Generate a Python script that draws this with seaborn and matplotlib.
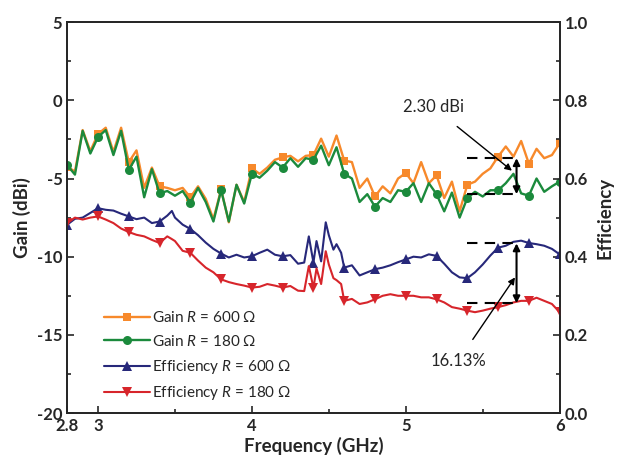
import numpy as np
import matplotlib
matplotlib.use("Agg")
import matplotlib.pyplot as plt
from matplotlib.ticker import MultipleLocator, FixedLocator
import seaborn as sns

# Gain curves, read every 0.05 GHz from 2.80 to 6.00
gain_freq = [2.80, 2.85, 2.90, 2.95, 3.00, 3.05, 3.10, 3.15, 3.20, 3.25, 3.30, 3.35, 3.40,
             3.45, 3.50, 3.55, 3.60, 3.65, 3.70, 3.75, 3.80, 3.85, 3.90, 3.95, 4.00, 4.05,
             4.10, 4.15, 4.20, 4.25, 4.30, 4.35, 4.40, 4.45, 4.50, 4.55, 4.60, 4.65, 4.70,
             4.75, 4.80, 4.85, 4.90, 4.95, 5.00, 5.05, 5.10, 5.15, 5.20, 5.25, 5.30, 5.35,
             5.40, 5.45, 5.50, 5.55, 5.60, 5.65, 5.70, 5.75, 5.80, 5.85, 5.90, 5.95, 6.00]
gain_600 = [-4.25, -4.55, -1.9, -3.25, -2.15, -1.75, -3.3, -1.75, -3.95, -3.2, -5.6, -4.3, -5.5,
            -5.6, -5.75, -5.6, -6.2, -5.5, -6.3, -7.6, -5.7, -7.8, -5.4, -6.5, -4.35, -4.7,
            -4.3, -3.8, -3.65, -3.55, -3.9, -3.55, -3.5, -2.45, -3.6, -2.25, -3.85, -3.95, -5.6,
            -5.0, -6.15, -5.5, -5.95, -5.0, -4.65, -5.3, -3.95, -5.3, -4.8, -6.25, -5.2, -7.1,
            -5.4, -5.2, -4.7, -4.35, -3.6, -2.95, -3.6, -2.6, -4.05, -3.1, -3.7, -3.5, -2.75]
gain_180 = [-4.15, -4.75, -1.95, -3.4, -2.35, -1.9, -3.5, -1.95, -4.45, -3.6, -6.2, -4.4, -5.95,
            -5.8, -6.1, -5.8, -6.55, -5.6, -6.5, -7.75, -5.75, -7.75, -5.4, -6.6, -4.7, -4.95,
            -4.5, -3.95, -4.3, -3.7, -4.25, -3.7, -3.8, -2.9, -4.15, -3.0, -4.7, -5.0, -6.5,
            -6.0, -6.8, -6.25, -6.5, -5.75, -5.85, -5.3, -6.5, -5.3, -6.0, -7.1, -5.9, -7.5,
            -6.25, -5.85, -6.15, -5.75, -5.75, -5.3, -4.7, -5.95, -6.1, -5.0, -5.85, -5.5, -5.2]

# Efficiency curves (extra points around the 4.4-4.5 GHz spikes)
eff_freq = [2.80, 2.85, 2.90, 2.95, 3.00, 3.05, 3.10, 3.15, 3.20, 3.25, 3.30, 3.35, 3.40,
            3.45, 3.48, 3.50, 3.55, 3.60, 3.65, 3.70, 3.75, 3.80, 3.85, 3.90, 3.95, 4.00,
            4.05, 4.10, 4.15, 4.20, 4.25, 4.30, 4.34, 4.37, 4.40, 4.42, 4.45, 4.48, 4.50,
            4.53, 4.55, 4.58, 4.60, 4.65, 4.70, 4.75, 4.80, 4.85, 4.90, 4.95, 5.00, 5.05,
            5.10, 5.15, 5.20, 5.25, 5.30, 5.35, 5.40, 5.45, 5.50, 5.55, 5.60, 5.65, 5.70,
            5.75, 5.80, 5.85, 5.90, 5.95, 6.00]
eff_600 = [0.482, 0.497, 0.500, 0.512, 0.524, 0.520, 0.518, 0.510, 0.503, 0.496, 0.500, 0.486, 0.490,
           0.505, 0.517, 0.500, 0.482, 0.471, 0.455, 0.436, 0.420, 0.408, 0.398, 0.405, 0.398, 0.401,
           0.410, 0.418, 0.405, 0.401, 0.404, 0.382, 0.385, 0.452, 0.385, 0.440, 0.388, 0.488, 0.455,
           0.418, 0.432, 0.410, 0.372, 0.378, 0.352, 0.360, 0.368, 0.372, 0.378, 0.386, 0.393, 0.400,
           0.398, 0.406, 0.402, 0.382, 0.360, 0.347, 0.345, 0.360, 0.380, 0.403, 0.423, 0.428, 0.438,
           0.441, 0.435, 0.432, 0.428, 0.420, 0.406]
eff_180 = [0.486, 0.500, 0.495, 0.500, 0.503, 0.495, 0.486, 0.472, 0.463, 0.456, 0.452, 0.443, 0.435,
           0.452, 0.445, 0.440, 0.415, 0.410, 0.390, 0.372, 0.360, 0.342, 0.335, 0.330, 0.326, 0.321,
           0.323, 0.330, 0.326, 0.321, 0.325, 0.313, 0.312, 0.376, 0.320, 0.370, 0.330, 0.414, 0.380,
           0.345, 0.340, 0.330, 0.287, 0.292, 0.279, 0.283, 0.291, 0.300, 0.304, 0.300, 0.300, 0.300,
           0.296, 0.296, 0.291, 0.283, 0.271, 0.267, 0.262, 0.258, 0.262, 0.267, 0.271, 0.276, 0.283,
           0.287, 0.287, 0.295, 0.287, 0.279, 0.258]

# annotation levels
gain_gap = [-3.7, -6.0]
eff_gap = [0.434, 0.281]
gap_x = [5.4, 5.72]

colors = {"g600": "#f7892b", "g180": "#1b8a3c", "e600": "#27287a", "e180": "#d7252b"}

sns.set_style("ticks")
plt.rcParams["font.family"] = ["Lato", "DejaVu Sans"]
plt.rcParams["mathtext.fontset"] = "custom"
plt.rcParams["mathtext.rm"] = "Lato"
plt.rcParams["mathtext.it"] = "Lato:italic"
plt.rcParams["axes.unicode_minus"] = False


def mark_idx(freqs):
    # markers sit every 0.2 GHz
    return [i for i, f in enumerate(freqs) if abs(f * 5 - round(f * 5)) < 1e-6]


fig = plt.figure(figsize=(6.17, 4.62), dpi=100)
ax = fig.add_axes([0.109, 0.106, 0.798, 0.846])
ax2 = ax.twinx()

sns.lineplot(x=gain_freq, y=gain_600, ax=ax, color=colors["g600"], lw=1.7, marker="s",
             markersize=6, markeredgewidth=0, markevery=mark_idx(gain_freq),
             label=r"Gain $\mathit{R}$ = 600 Ω", legend=False)
sns.lineplot(x=gain_freq, y=gain_180, ax=ax, color=colors["g180"], lw=1.7, marker="o",
             markersize=6.5, markeredgewidth=0, markevery=mark_idx(gain_freq),
             label=r"Gain $\mathit{R}$ = 180 Ω", legend=False)
sns.lineplot(x=eff_freq, y=eff_600, ax=ax2, color=colors["e600"], lw=1.5, marker="^",
             markersize=7, markeredgewidth=0, markevery=mark_idx(eff_freq),
             label=r"Efficiency $\mathit{R}$ = 600 Ω", legend=False)
sns.lineplot(x=eff_freq, y=eff_180, ax=ax2, color=colors["e180"], lw=1.5, marker="v",
             markersize=7, markeredgewidth=0, markevery=mark_idx(eff_freq),
             label=r"Efficiency $\mathit{R}$ = 180 Ω", legend=False)

ax.set_xlim(2.8, 6.0)
ax.set_ylim(-20, 5)
ax2.set_ylim(0, 1.0)

ax.xaxis.set_major_locator(FixedLocator([2.8, 3, 4, 5, 6]))
ax.set_xticklabels(["2.8", "3", "4", "5", "6"])
ax.xaxis.set_minor_locator(FixedLocator([3.5, 4.5, 5.5]))
ax.yaxis.set_major_locator(MultipleLocator(5))
ax.yaxis.set_minor_locator(MultipleLocator(2.5))
ax2.yaxis.set_major_locator(MultipleLocator(0.2))
ax2.yaxis.set_minor_locator(MultipleLocator(0.1))
ax2.set_yticklabels([f"{v:.1f}" for v in ax2.get_yticks()])

for a in (ax, ax2):
    a.tick_params(which="major", direction="in", length=5, width=1.2, labelsize=12)
    a.tick_params(which="minor", direction="in", length=3, width=1.2)
    for lab in a.get_xticklabels() + a.get_yticklabels():
        lab.set_fontweight("bold")
    for s in a.spines.values():
        s.set_linewidth(1.3)
        s.set_visible(True)
ax.tick_params(axis="x", which="both", top=False)

ax.set_xlabel("Frequency (GHz)", fontsize=13.5, fontweight="bold", labelpad=2)
ax.set_ylabel("Gain (dBi)", fontsize=13.5, fontweight="bold", labelpad=4)
ax2.set_ylabel("Efficiency", fontsize=13.5, fontweight="bold", labelpad=6)

# gain difference marker
for y in gain_gap:
    ax.plot(gap_x, [y, y], color="black", ls=(0, (5, 3.5)), lw=1.5)
ax.annotate("", xy=(gap_x[1], gain_gap[1]), xytext=(gap_x[1], gain_gap[0]),
            arrowprops=dict(arrowstyle="<|-|>", color="black", lw=1.5, mutation_scale=10,
                            shrinkA=0, shrinkB=0))
ax.annotate("2.30 dBi", xy=(5.69, -4.5), xytext=(5.18, -0.45), fontsize=12,
            ha="center", va="center",
            arrowprops=dict(arrowstyle="-|>", color="black", lw=1.0, mutation_scale=10,
                            shrinkA=9, shrinkB=0))

# efficiency difference marker
for y in eff_gap:
    ax2.plot(gap_x, [y, y], color="black", ls=(0, (5, 3.5)), lw=1.5)
ax2.annotate("", xy=(gap_x[1], eff_gap[1]), xytext=(gap_x[1], eff_gap[0]),
             arrowprops=dict(arrowstyle="<|-|>", color="black", lw=1.5, mutation_scale=10,
                             shrinkA=0, shrinkB=0))
ax2.annotate("16.13%", xy=(5.71, 0.347), xytext=(5.34, 0.133), fontsize=12,
             ha="center", va="center",
             arrowprops=dict(arrowstyle="-|>", color="black", lw=1.0, mutation_scale=10,
                             shrinkA=9, shrinkB=0))

# legend in two groups
h1, l1 = ax.get_legend_handles_labels()
h2, l2 = ax2.get_legend_handles_labels()
leg_kw = dict(loc="lower left", frameon=False, fontsize=11, handlelength=3.0,
              handletextpad=0.1, labelspacing=0.55, borderaxespad=0, borderpad=0)
leg1 = ax2.legend(h1, l1, bbox_to_anchor=(0.075, 0.165), **leg_kw)
ax2.add_artist(leg1)
ax2.legend(h2, l2, bbox_to_anchor=(0.075, 0.027), **leg_kw)

fig.savefig("out.png", dpi=100)
